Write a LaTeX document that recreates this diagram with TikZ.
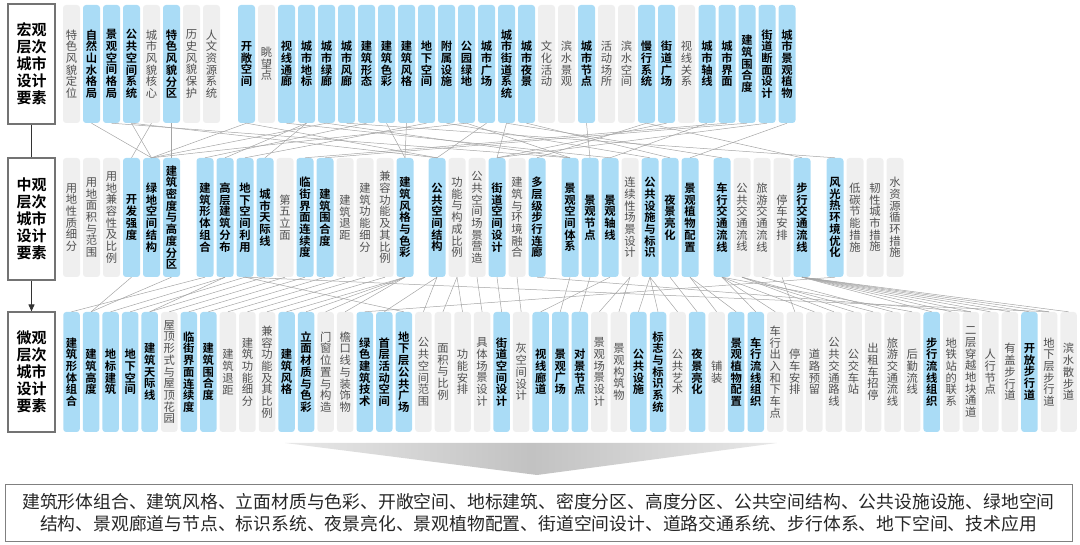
\documentclass[tikz,border=0pt]{standalone}
\usepackage{fontspec}
\usetikzlibrary{arrows.meta}
\newfontfamily\cjk{Noto Sans CJK SC}
\newfontfamily\cjkb{Noto Sans CJK SC Bold}
\definecolor{bluefill}{RGB}{170,220,246}
\definecolor{greyfill}{RGB}{239,239,239}
\definecolor{greytext}{RGB}{80,80,80}
\definecolor{linegrey}{RGB}{165,165,165}
\def\vtaux#1{\ifx\relax#1\else\hbox to 12pt{\hss#1\hss}\expandafter\vtaux\fi}
\newcommand\vt[1]{\vbox{\baselineskip=11.7pt\lineskiplimit=-20pt\lineskip=0pt\expandafter\vtaux#1\relax}}
\tikzset{
  colbox/.style={rounded corners=3pt, inner sep=0pt, minimum width=17pt},
  bcol/.style={colbox, fill=bluefill, text=black, font=\cjkb\fontsize{11.3}{11.7}\selectfont},
  gcol/.style={colbox, fill=greyfill, text=greytext, font=\cjk\fontsize{11.3}{11.7}\selectfont},
  levelbox/.style={draw=black!55, line width=1.2pt, fill=white, inner sep=0pt, minimum width=47pt,
    align=center, font=\cjkb\fontsize{15}{17}\selectfont},
  conn/.style={draw=linegrey, line width=0.5pt},
  sumbox/.style={draw=black!50, line width=1pt, inner sep=0pt, minimum width=1067pt, minimum height=57pt,
    align=center, text=black!85, font=\cjk\fontsize{17.8}{22}\selectfont}
}
\begin{document}
\begin{tikzpicture}[x=1pt,y=-1pt]
\useasboundingbox (0,0) rectangle (1080,545);
% level boxes
\node[levelbox, minimum height=120pt] (L1) at (31.5,64) {宏观\\层次\\城市\\设计\\要素};
\node[levelbox, minimum height=122pt] (L2) at (31.5,219) {中观\\层次\\城市\\设计\\要素};
\node[levelbox, minimum height=120pt] (L3) at (31.5,372) {微观\\层次\\城市\\设计\\要素};
\draw[line width=1pt, black!80] (L1.south) -- (L2.north);
\draw[line width=1pt, black!80, -{Triangle[width=6pt,length=7pt]}] (L2.south) -- (L3.north);
% top row
\foreach \n/\x/\s/\txt in {
1/71.5/gcol/特色风貌定位, 2/91.5/bcol/自然山水格局, 3/111.5/bcol/景观空间格局, 4/131.5/bcol/公共空间系统,
5/151.5/gcol/城市风貌核心, 6/171.5/bcol/特色风貌分区, 7/191.5/gcol/历史风貌保护, 8/211.5/gcol/人文资源系统,
9/246.5/bcol/开敞空间, 10/266.5/gcol/眺望点, 11/286.5/bcol/视线通廊, 12/306.5/bcol/城市地标,
13/326.5/bcol/城市绿廊, 14/346.5/bcol/城市风廊, 15/366.5/bcol/建筑形态, 16/386.5/bcol/建筑色彩,
17/406.5/bcol/建筑风格, 18/426.5/bcol/地下空间, 19/446.5/bcol/附属设施, 20/466.5/bcol/公园绿地,
21/486.5/bcol/城市广场, 22/506.5/bcol/城市街道系统, 23/526.5/bcol/城市夜景, 24/546.5/gcol/文化活动,
25/566.5/gcol/滨水景观, 26/586.5/bcol/城市节点, 27/606.5/gcol/活动场所, 28/626.5/gcol/滨水空间,
29/646.5/bcol/慢行系统, 30/666.5/bcol/街道广场, 31/686.5/gcol/视线关系, 32/707/bcol/城市轴线,
33/727/bcol/城市界面, 34/747/bcol/建筑围合度, 35/767/bcol/街道断面设计, 36/787/bcol/城市景观植物}
{\node[\s, minimum height=118pt] (t\n) at (\x,64) {\vt{\txt}};}
% middle row
\foreach \n/\x/\s/\txt in {
1/71.5/gcol/用地性质细分, 2/91.5/gcol/用地面积与范围, 3/111.5/gcol/用地兼容性及比例, 4/131.5/bcol/开发强度,
5/151.5/bcol/绿地空间结构, 6/171.5/bcol/建筑密度与高度分区, 7/205/bcol/建筑形体组合, 8/225/bcol/高层建筑分布,
9/245/bcol/地下空间利用, 10/265/bcol/城市天际线, 11/285/gcol/第五立面, 12/305/bcol/临街界面连续度,
13/325/bcol/建筑围合度, 14/345/gcol/建筑退距, 15/365/gcol/建筑功能细分, 16/385/gcol/兼容功能及其比例,
17/405/bcol/建筑风格与色彩, 18/437/bcol/公共空间结构, 19/457/gcol/功能与构成比例, 20/477/gcol/公共空间场景营造,
21/497/bcol/街道空间设计, 22/517/gcol/建筑与环境融合, 23/537/bcol/多层级步行连廊, 24/570/bcol/景观空间体系,
25/590/bcol/景观节点, 26/610/bcol/景观轴线, 27/630/gcol/连续性场景设计, 28/650/bcol/公共设施与标识,
29/670/bcol/夜景亮化, 30/690/bcol/景观植物配置, 31/722/bcol/车行交通流线, 32/742/gcol/公共交通流线,
33/762/gcol/旅游交通流线, 34/782/gcol/停车安排, 35/802/bcol/步行交通流线, 36/835/bcol/风光热环境优化,
37/855/gcol/低碳节能措施, 38/875/gcol/韧性城市措施, 39/895/gcol/水资源循环措施}
{\node[\s, minimum height=119pt] (m\n) at (\x,217.5) {\vt{\txt}};}
% bottom row
\foreach \n/\s/\txt [evaluate=\n as \x using 71.5+19.55*(\n-1)] in {
1/bcol/建筑形体组合, 2/bcol/建筑高度, 3/bcol/地标建筑, 4/bcol/地下空间, 5/bcol/建筑天际线,
6/gcol/屋顶形式与屋顶花园, 7/bcol/临街界面连续度, 8/bcol/建筑围合度, 9/gcol/建筑退距, 10/gcol/建筑功能细分,
11/gcol/兼容功能及其比例, 12/bcol/建筑风格, 13/bcol/立面材质与色彩, 14/gcol/门窗位置与构造, 15/gcol/檐口线与装饰物,
16/bcol/绿色建筑技术, 17/bcol/首层活动空间, 18/bcol/地下层公共广场, 19/gcol/公共空间范围, 20/gcol/面积与比例,
21/gcol/功能安排, 22/gcol/具体场景设计, 23/bcol/街道空间设计, 24/gcol/灰空间设计, 25/bcol/视线廊道,
26/bcol/景观广场, 27/bcol/对景节点, 28/gcol/景观场景设计, 29/gcol/景观构筑物, 30/bcol/公共设施,
31/bcol/标志与标识系统, 32/gcol/公共艺术, 33/bcol/夜景亮化, 34/gcol/铺装, 35/bcol/景观植物配置,
36/bcol/车行流线组织, 37/gcol/车行出入和下车点, 38/gcol/停车安排, 39/gcol/道路预留, 40/gcol/公共交通路线,
41/gcol/公交车站, 42/gcol/出租车招停, 43/gcol/旅游交通流线, 44/gcol/后勤流线, 45/bcol/步行流线组织,
46/gcol/地铁站的联系, 47/gcol/二层穿越地块通道, 48/gcol/人行节点, 49/gcol/有盖步行道, 50/bcol/开放步行道,
51/gcol/地下层步行道, 52/gcol/滨水散步道}
{\node[\s, minimum width=16.5pt, minimum height=120pt] (b\n) at (\x,372) {\vt{\txt}};}
% connectors top -> middle
\foreach \a/\b in {2/5, 3/24, 4/18, 4/5, 5/4, 6/6, 9/5, 9/18, 11/26, 12/8, 12/10, 13/5, 14/36,
  15/7, 16/17, 17/17, 18/9, 19/28, 20/5, 21/18, 22/21, 22/31, 23/29, 26/25, 29/23, 29/35,
  30/21, 32/26, 33/12, 34/13, 35/21, 36/30, 20/24, 13/24}
{\draw[conn] (t\a.south) -- (m\b.north);}
% connectors middle -> bottom
\foreach \a/\b in {4/2, 6/2, 7/1, 8/3, 8/5, 9/4, 9/18, 10/5, 11/6, 12/7, 13/8, 14/9, 15/10, 16/11,
  17/12, 17/13, 17/14, 17/15, 36/16, 18/17, 18/19, 19/20, 19/21, 20/22, 21/23, 22/24, 26/25,
  24/26, 25/27, 27/28, 27/29, 28/30, 28/31, 28/32, 29/33, 30/34, 30/35, 31/36, 31/37, 31/39,
  34/38, 32/40, 32/41, 32/42, 33/43, 31/44, 35/45, 35/46, 35/47, 35/48, 35/49, 35/50, 35/51,
  35/52, 23/47, 9/51}
{\draw[conn] (m\a.south) -- (b\b.north);}
% funnel
\shade[left color=black!9, right color=black!9, middle color=black!24]
  (285,443) -- (777,443) -- (537,475) -- cycle;
% summary box
\node[sumbox] (sum) at (538.5,512.5) {建筑形体组合、建筑风格、立面材质与色彩、开敞空间、地标建筑、密度分区、高度分区、公共空间结构、公共设施设施、绿地空间\\结构、景观廊道与节点、标识系统、夜景亮化、景观植物配置、街道空间设计、道路交通系统、步行体系、地下空间、技术应用};
\end{tikzpicture}
\end{document}
